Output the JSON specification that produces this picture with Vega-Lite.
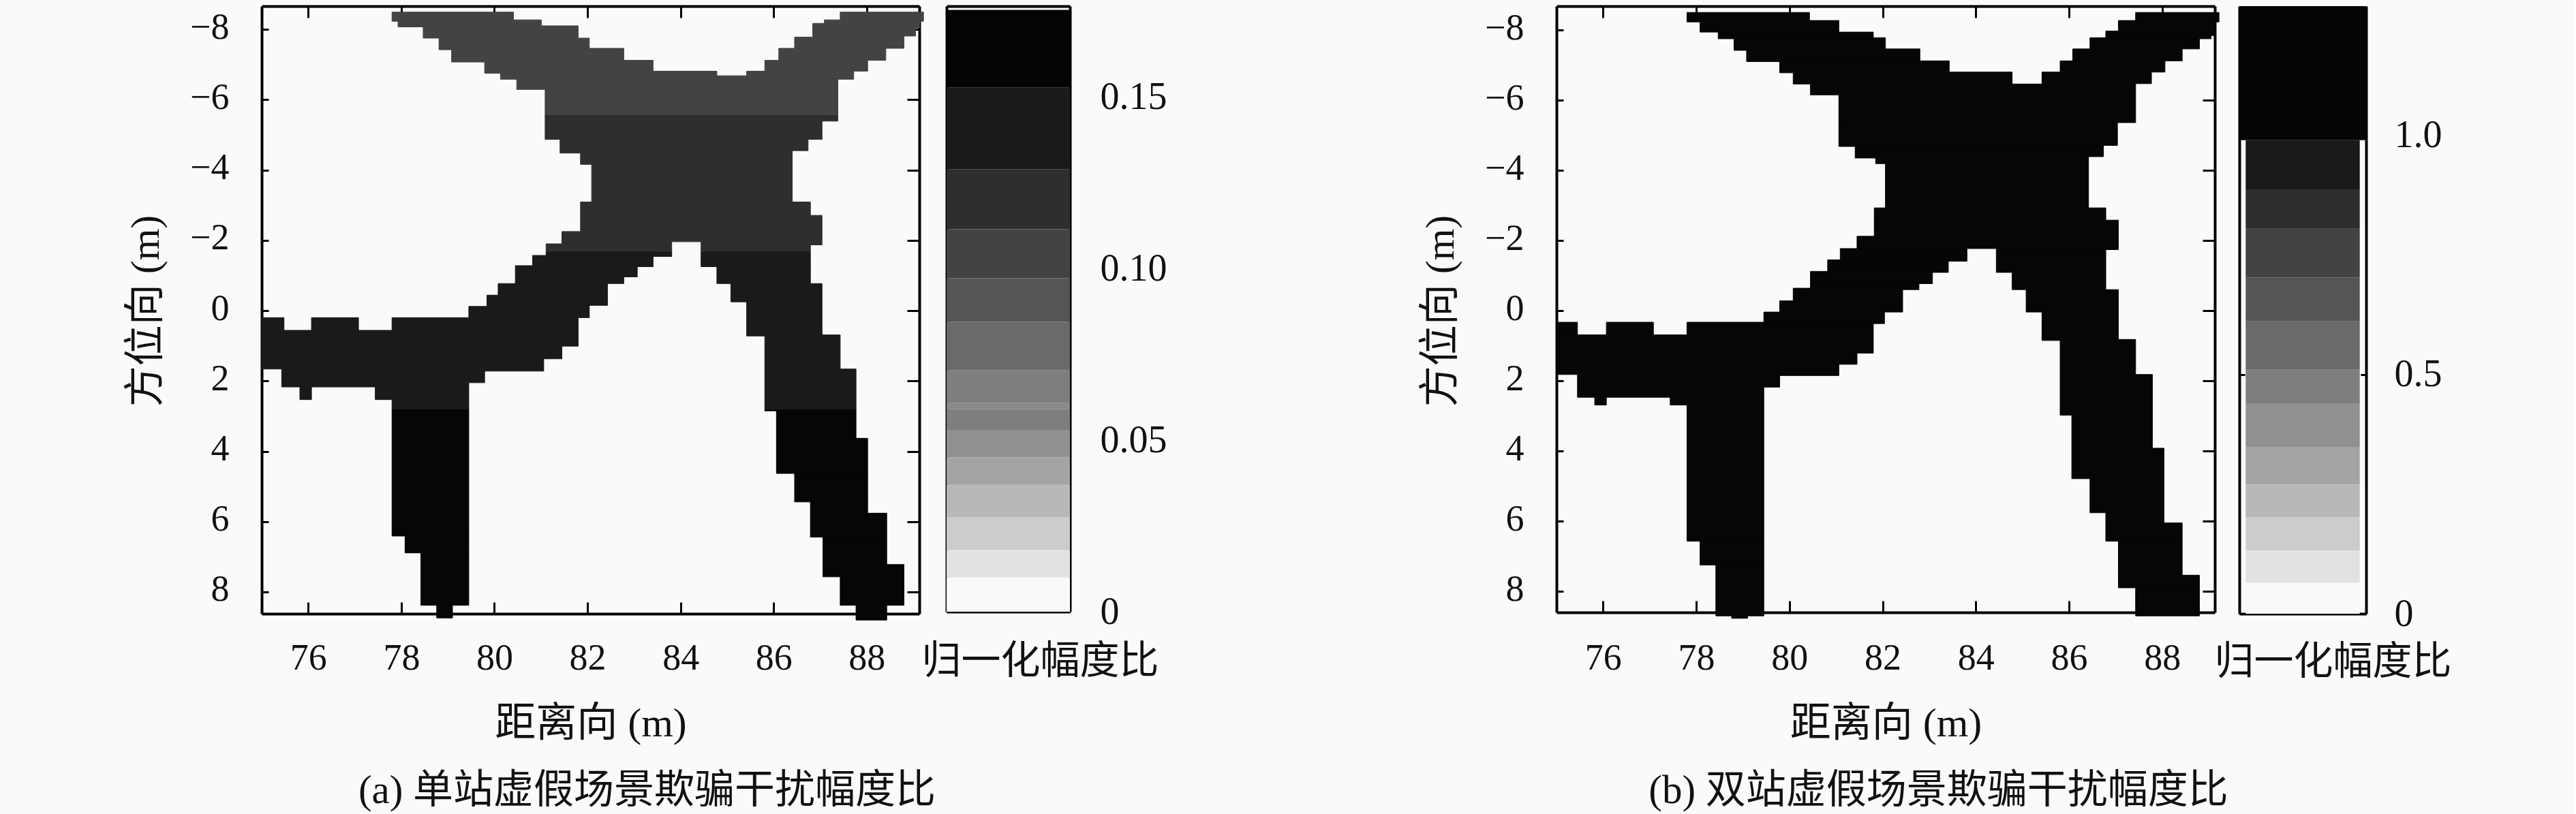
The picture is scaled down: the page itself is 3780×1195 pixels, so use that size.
{"$schema":"https://vega.github.io/schema/vega-lite/v6.json","background":"#fafafa","padding":{"left":184,"top":7,"right":180,"bottom":5},
"config":{"view":{"stroke":null},"axis":{"grid":false,"labelFont":"Liberation Serif","labelFontSize":54,"labelColor":"#111111","titleFont":"Liberation Serif, Noto Sans CJK SC","titleFontSize":60,"titleFontWeight":"normal","titleColor":"#111111","tickColor":"#000000","domainColor":"#000000","domainWidth":4,"tickWidth":3}},
"datasets":{
"a":[
{"x0":77.80,"x1":80.41,"y0":-8.49,"y1":-8.27,"v":0.105},{"x0":77.80,"x1":81.01,"y0":-8.27,"y1":-8.23,"v":0.105},{"x0":77.93,"x1":81.01,"y0":-8.23,"y1":-8.10,"v":0.105},{"x0":77.93,"x1":81.80,"y0":-8.10,"y1":-8.07,"v":0.105},{"x0":78.47,"x1":81.80,"y0":-8.07,"y1":-7.75,"v":0.105},{"x0":78.81,"x1":82.04,"y0":-7.75,"y1":-7.46,"v":0.105},{"x0":78.81,"x1":82.78,"y0":-7.46,"y1":-7.42,"v":0.105},{"x0":79.08,"x1":82.78,"y0":-7.42,"y1":-7.12,"v":0.105},{"x0":79.08,"x1":83.41,"y0":-7.12,"y1":-7.07,"v":0.105},{"x0":79.79,"x1":83.41,"y0":-7.07,"y1":-6.81,"v":0.105},{"x0":79.79,"x1":84.78,"y0":-6.81,"y1":-6.75,"v":0.105},{"x0":80.13,"x1":84.78,"y0":-6.75,"y1":-6.68,"v":0.105},{"x0":80.13,"x1":85.42,"y0":-6.68,"y1":-6.58,"v":0.105},{"x0":80.48,"x1":85.42,"y0":-6.58,"y1":-6.36,"v":0.105},{"x0":80.48,"x1":87.38,"y0":-6.36,"y1":-6.29,"v":0.105},{"x0":81.09,"x1":87.38,"y0":-6.29,"y1":-5.55,"v":0.105},
{"x0":87.43,"x1":89.22,"y0":-8.49,"y1":-8.27,"v":0.105},{"x0":87.09,"x1":89.22,"y0":-8.27,"y1":-8.23,"v":0.105},{"x0":87.09,"x1":89.14,"y0":-8.23,"y1":-8.17,"v":0.105},{"x0":86.84,"x1":89.14,"y0":-8.17,"y1":-8.04,"v":0.105},{"x0":86.84,"x1":89.05,"y0":-8.04,"y1":-7.81,"v":0.105},{"x0":86.84,"x1":88.80,"y0":-7.81,"y1":-7.78,"v":0.105},{"x0":86.45,"x1":88.80,"y0":-7.78,"y1":-7.46,"v":0.105},{"x0":86.11,"x1":88.41,"y0":-7.46,"y1":-7.12,"v":0.105},{"x0":85.81,"x1":88.02,"y0":-7.12,"y1":-6.81,"v":0.105},{"x0":85.42,"x1":87.72,"y0":-6.81,"y1":-6.58,"v":0.105},{"x0":85.42,"x1":87.38,"y0":-6.58,"y1":-6.36,"v":0.105},
{"x0":81.09,"x1":87.38,"y0":-5.55,"y1":-5.39,"v":0.12},{"x0":81.09,"x1":87.04,"y0":-5.39,"y1":-4.87,"v":0.12},{"x0":81.41,"x1":86.74,"y0":-4.87,"y1":-4.55,"v":0.12},{"x0":81.41,"x1":86.40,"y0":-4.55,"y1":-4.48,"v":0.12},{"x0":81.85,"x1":86.40,"y0":-4.48,"y1":-4.16,"v":0.12},{"x0":82.09,"x1":86.40,"y0":-4.16,"y1":-3.09,"v":0.12},{"x0":81.85,"x1":86.79,"y0":-3.09,"y1":-2.71,"v":0.12},{"x0":81.85,"x1":87.04,"y0":-2.71,"y1":-2.25,"v":0.12},{"x0":81.45,"x1":87.04,"y0":-2.25,"y1":-1.96,"v":0.12},{"x0":81.45,"x1":83.81,"y0":-1.96,"y1":-1.90,"v":0.12},{"x0":84.44,"x1":87.04,"y0":-1.96,"y1":-1.87,"v":0.12},{"x0":81.11,"x1":83.81,"y0":-1.90,"y1":-1.67,"v":0.12},{"x0":84.44,"x1":86.79,"y0":-1.87,"y1":-1.67,"v":0.12},
{"x0":81.11,"x1":83.81,"y0":-1.67,"y1":-1.57,"v":0.14},{"x0":80.82,"x1":83.81,"y0":-1.57,"y1":-1.54,"v":0.14},{"x0":80.82,"x1":83.41,"y0":-1.54,"y1":-1.28,"v":0.14},{"x0":80.45,"x1":83.41,"y0":-1.28,"y1":-1.25,"v":0.14},{"x0":80.45,"x1":83.07,"y0":-1.25,"y1":-0.96,"v":0.14},{"x0":80.45,"x1":82.78,"y0":-0.96,"y1":-0.77,"v":0.14},{"x0":80.08,"x1":82.43,"y0":-0.77,"y1":-0.44,"v":0.14},{"x0":79.84,"x1":82.43,"y0":-0.44,"y1":-0.15,"v":0.14},{"x0":79.84,"x1":82.04,"y0":-0.15,"y1":-0.12,"v":0.14},{"x0":79.45,"x1":82.04,"y0":-0.12,"y1":0.20,"v":0.14},{"x0":75,"x1":75.48,"y0":0.20,"y1":0.56,"v":0.14},{"x0":76.07,"x1":77.08,"y0":0.20,"y1":0.56,"v":0.14},{"x0":77.80,"x1":81.80,"y0":0.20,"y1":0.56,"v":0.14},{"x0":75,"x1":81.80,"y0":0.56,"y1":1.01,"v":0.14},{"x0":75,"x1":81.45,"y0":1.01,"y1":1.37,"v":0.14},{"x0":75,"x1":81.06,"y0":1.37,"y1":1.66,"v":0.14},{"x0":75.43,"x1":81.06,"y0":1.66,"y1":1.72,"v":0.14},{"x0":75.43,"x1":79.79,"y0":1.72,"y1":2.05,"v":0.14},{"x0":75.43,"x1":79.45,"y0":2.05,"y1":2.17,"v":0.14},{"x0":75.82,"x1":76.07,"y0":2.17,"y1":2.53,"v":0.14},{"x0":77.44,"x1":79.45,"y0":2.17,"y1":2.53,"v":0.14},{"x0":77.80,"x1":79.45,"y0":2.53,"y1":2.82,"v":0.14},
{"x0":77.80,"x1":79.45,"y0":2.82,"y1":6.41,"v":0.17},{"x0":78.08,"x1":79.45,"y0":6.41,"y1":6.89,"v":0.17},{"x0":78.42,"x1":79.45,"y0":6.89,"y1":8.38,"v":0.17},{"x0":78.76,"x1":79.10,"y0":8.38,"y1":8.74,"v":0.17},
{"x0":84.44,"x1":86.79,"y0":-1.67,"y1":-1.25,"v":0.14},{"x0":84.78,"x1":86.79,"y0":-1.25,"y1":-0.77,"v":0.14},{"x0":85.08,"x1":87.04,"y0":-0.77,"y1":-0.25,"v":0.14},{"x0":85.42,"x1":87.04,"y0":-0.25,"y1":0.69,"v":0.14},{"x0":85.42,"x1":87.43,"y0":0.69,"y1":0.72,"v":0.14},{"x0":85.81,"x1":87.43,"y0":0.72,"y1":1.66,"v":0.14},{"x0":85.81,"x1":87.77,"y0":1.66,"y1":2.82,"v":0.14},
{"x0":85.81,"x1":87.77,"y0":2.82,"y1":2.85,"v":0.17},{"x0":86.06,"x1":87.77,"y0":2.85,"y1":3.63,"v":0.17},{"x0":86.06,"x1":88.02,"y0":3.63,"y1":4.63,"v":0.17},{"x0":86.45,"x1":88.02,"y0":4.63,"y1":5.44,"v":0.17},{"x0":86.79,"x1":88.02,"y0":5.44,"y1":5.76,"v":0.17},{"x0":86.79,"x1":88.43,"y0":5.76,"y1":6.44,"v":0.17},{"x0":87.06,"x1":88.43,"y0":6.44,"y1":7.22,"v":0.17},{"x0":87.06,"x1":88.80,"y0":7.22,"y1":7.57,"v":0.17},{"x0":87.43,"x1":88.80,"y0":7.57,"y1":8.38,"v":0.17},{"x0":87.77,"x1":88.43,"y0":8.38,"y1":8.80,"v":0.17}
],
"b":[
{"x0":77.80,"x1":80.43,"y0":-8.50,"y1":-8.27,"v":1.1},{"x0":77.80,"x1":81.06,"y0":-8.27,"y1":-8.23,"v":1.1},{"x0":78.08,"x1":81.06,"y0":-8.23,"y1":-7.94,"v":1.1},{"x0":78.47,"x1":81.80,"y0":-7.94,"y1":-7.78,"v":1.1},{"x0":78.47,"x1":82.06,"y0":-7.78,"y1":-7.75,"v":1.1},{"x0":78.81,"x1":82.06,"y0":-7.75,"y1":-7.46,"v":1.1},{"x0":78.81,"x1":82.80,"y0":-7.46,"y1":-7.42,"v":1.1},{"x0":79.08,"x1":82.80,"y0":-7.42,"y1":-7.12,"v":1.1},{"x0":79.08,"x1":83.43,"y0":-7.12,"y1":-7.10,"v":1.1},{"x0":79.79,"x1":83.43,"y0":-7.10,"y1":-6.80,"v":1.1},{"x0":79.79,"x1":84.78,"y0":-6.80,"y1":-6.78,"v":1.1},{"x0":80.08,"x1":84.78,"y0":-6.78,"y1":-6.46,"v":1.1},{"x0":80.45,"x1":87.43,"y0":-6.46,"y1":-6.15,"v":1.1},{"x0":81.06,"x1":87.43,"y0":-6.15,"y1":-5.36,"v":1.1},
{"x0":87.43,"x1":89.22,"y0":-8.50,"y1":-8.27,"v":1.1},{"x0":87.06,"x1":89.22,"y0":-8.27,"y1":-8.23,"v":1.1},{"x0":87.06,"x1":89.14,"y0":-8.23,"y1":-7.97,"v":1.1},{"x0":86.79,"x1":89.14,"y0":-7.97,"y1":-7.84,"v":1.1},{"x0":86.79,"x1":89.05,"y0":-7.84,"y1":-7.78,"v":1.1},{"x0":86.45,"x1":89.05,"y0":-7.78,"y1":-7.75,"v":1.1},{"x0":86.45,"x1":88.80,"y0":-7.75,"y1":-7.46,"v":1.1},{"x0":86.08,"x1":88.43,"y0":-7.46,"y1":-7.12,"v":1.1},{"x0":85.81,"x1":88.06,"y0":-7.12,"y1":-6.80,"v":1.1},{"x0":85.42,"x1":87.77,"y0":-6.80,"y1":-6.47,"v":1.1},{"x0":85.42,"x1":87.43,"y0":-6.47,"y1":-6.46,"v":1.1},
{"x0":81.06,"x1":87.04,"y0":-5.36,"y1":-4.71,"v":1.1},{"x0":81.06,"x1":86.74,"y0":-4.71,"y1":-4.68,"v":1.1},{"x0":81.41,"x1":86.74,"y0":-4.68,"y1":-4.39,"v":1.1},{"x0":81.41,"x1":86.42,"y0":-4.39,"y1":-4.35,"v":1.1},{"x0":81.85,"x1":86.42,"y0":-4.35,"y1":-4.19,"v":1.1},{"x0":82.06,"x1":86.42,"y0":-4.19,"y1":-2.93,"v":1.1},{"x0":81.82,"x1":86.79,"y0":-2.93,"y1":-2.58,"v":1.1},{"x0":81.82,"x1":87.06,"y0":-2.58,"y1":-2.12,"v":1.1},{"x0":81.45,"x1":87.06,"y0":-2.12,"y1":-1.77,"v":1.1},
{"x0":81.09,"x1":83.81,"y0":-1.77,"y1":-1.45,"v":1.1},{"x0":80.82,"x1":83.81,"y0":-1.45,"y1":-1.41,"v":1.1},{"x0":80.82,"x1":83.41,"y0":-1.41,"y1":-1.12,"v":1.1},{"x0":80.45,"x1":83.41,"y0":-1.12,"y1":-1.09,"v":1.1},{"x0":80.45,"x1":83.07,"y0":-1.09,"y1":-0.77,"v":1.1},{"x0":80.45,"x1":82.78,"y0":-0.77,"y1":-0.64,"v":1.1},{"x0":80.08,"x1":82.78,"y0":-0.64,"y1":-0.60,"v":1.1},{"x0":80.08,"x1":82.43,"y0":-0.60,"y1":-0.28,"v":1.1},{"x0":79.79,"x1":82.43,"y0":-0.28,"y1":0.04,"v":1.1},{"x0":79.45,"x1":82.04,"y0":0.04,"y1":0.33,"v":1.1},{"x0":77.80,"x1":82.04,"y0":0.33,"y1":0.37,"v":1.1},{"x0":77.80,"x1":81.80,"y0":0.37,"y1":0.69,"v":1.1},{"x0":75,"x1":75.45,"y0":0.33,"y1":0.69,"v":1.1},{"x0":76.07,"x1":77.08,"y0":0.33,"y1":0.69,"v":1.1},{"x0":75,"x1":81.80,"y0":0.69,"y1":1.21,"v":1.1},{"x0":75,"x1":81.45,"y0":1.21,"y1":1.53,"v":1.1},{"x0":75,"x1":81.06,"y0":1.53,"y1":1.82,"v":1.1},{"x0":75.45,"x1":81.06,"y0":1.82,"y1":1.85,"v":1.1},{"x0":75.45,"x1":79.79,"y0":1.85,"y1":2.18,"v":1.1},{"x0":75.45,"x1":79.45,"y0":2.18,"y1":2.47,"v":1.1},{"x0":75.82,"x1":76.07,"y0":2.47,"y1":2.69,"v":1.1},{"x0":77.44,"x1":79.45,"y0":2.47,"y1":2.69,"v":1.1},{"x0":77.80,"x1":79.45,"y0":2.69,"y1":6.57,"v":1.1},{"x0":78.08,"x1":79.45,"y0":6.57,"y1":7.25,"v":1.1},{"x0":78.42,"x1":79.45,"y0":7.25,"y1":8.70,"v":1.1},{"x0":78.76,"x1":79.10,"y0":8.70,"y1":8.77,"v":1.1},
{"x0":84.44,"x1":87.06,"y0":-1.77,"y1":-1.74,"v":1.1},{"x0":84.44,"x1":86.79,"y0":-1.74,"y1":-1.09,"v":1.1},{"x0":84.78,"x1":86.79,"y0":-1.09,"y1":-0.60,"v":1.1},{"x0":85.08,"x1":87.06,"y0":-0.60,"y1":0.04,"v":1.1},{"x0":85.42,"x1":87.06,"y0":0.04,"y1":0.82,"v":1.1},{"x0":85.42,"x1":87.43,"y0":0.82,"y1":0.85,"v":1.1},{"x0":85.81,"x1":87.43,"y0":0.85,"y1":1.82,"v":1.1},{"x0":85.81,"x1":87.79,"y0":1.82,"y1":2.98,"v":1.1},{"x0":86.06,"x1":87.79,"y0":2.98,"y1":3.92,"v":1.1},{"x0":86.06,"x1":88.04,"y0":3.92,"y1":4.79,"v":1.1},{"x0":86.45,"x1":88.04,"y0":4.79,"y1":5.76,"v":1.1},{"x0":86.79,"x1":88.04,"y0":5.76,"y1":6.05,"v":1.1},{"x0":86.79,"x1":88.43,"y0":6.05,"y1":6.57,"v":1.1},{"x0":87.06,"x1":88.43,"y0":6.57,"y1":7.54,"v":1.1},{"x0":87.06,"x1":88.80,"y0":7.54,"y1":7.90,"v":1.1},{"x0":87.43,"x1":88.80,"y0":7.90,"y1":8.70,"v":1.1}
],
"ca":[
{"lo":0,"hi":0.0100,"v":0.005},{"lo":0.0100,"hi":0.018,"v":0.014},{"lo":0.018,"hi":0.0276,"v":0.023},{"lo":0.0276,"hi":0.037,"v":0.032},{"lo":0.037,"hi":0.045,"v":0.041},{"lo":0.045,"hi":0.053,"v":0.049},{"lo":0.053,"hi":0.059,"v":0.056},{"lo":0.059,"hi":0.0608,"v":0.06},{"lo":0.0608,"hi":0.0704,"v":0.065},{"lo":0.0704,"hi":0.0845,"v":0.077},{"lo":0.0845,"hi":0.0972,"v":0.09},{"lo":0.0972,"hi":0.1115,"v":0.105},{"lo":0.1115,"hi":0.129,"v":0.12},{"lo":0.129,"hi":0.1528,"v":0.14},{"lo":0.1528,"hi":0.1754,"v":0.165}
],
"cb":[
{"lo":0,"hi":0.0649,"v":0.03,"a":0.05,"b":0.95},{"lo":0.0649,"hi":0.1323,"v":0.1,"a":0.05,"b":0.95},{"lo":0.1323,"hi":0.2014,"v":0.17,"a":0.05,"b":0.95},{"lo":0.2014,"hi":0.27,"v":0.24,"a":0.05,"b":0.95},{"lo":0.27,"hi":0.349,"v":0.31,"a":0.05,"b":0.95},{"lo":0.349,"hi":0.44,"v":0.4,"a":0.05,"b":0.95},{"lo":0.44,"hi":0.51,"v":0.48,"a":0.05,"b":0.95},{"lo":0.51,"hi":0.611,"v":0.56,"a":0.05,"b":0.95},{"lo":0.611,"hi":0.703,"v":0.66,"a":0.05,"b":0.95},{"lo":0.703,"hi":0.806,"v":0.75,"a":0.05,"b":0.95},{"lo":0.806,"hi":0.887,"v":0.85,"a":0.05,"b":0.95},{"lo":0.887,"hi":0.99,"v":0.94,"a":0.05,"b":0.95},{"lo":0.99,"hi":1.27,"v":1.1,"a":0,"b":1}
]},
"spacing":372,"resolve":{"scale":{"color":"independent","stroke":"independent"}},
"hconcat":[
{"bounds":"flush","spacing":40,"resolve":{"scale":{"color":"independent","stroke":"independent"}},"hconcat":[
{"width":965,"height":892,"data":{"name":"a"},"resolve":{"axis":{"x":"independent","y":"independent"}},"layer":[
{"mark":{"type":"rect","clip":false,"strokeWidth":1},"encoding":{
"x":{"field":"x0","type":"quantitative","scale":{"domain":[75,89.13],"nice":false,"zero":false},"axis":{"orient":"bottom","values":[76,78,80,82,84,86,88],"tickSize":-17,"labelPadding":55,"labelFlush":false,"title":"距离向 (m)","titleY":161,"titleBaseline":"middle"}},
"x2":{"field":"x1"},
"y":{"field":"y0","type":"quantitative","scale":{"domain":[-8.66,8.62],"nice":false,"zero":false,"reverse":true},"axis":{"orient":"left","values":[-8,-6,-4,-2,0,2,4,6,8],"tickSize":-10,"labelPadding":58,"labelOffset":-3,"labelFlush":false,"labelExpr":"replace(datum.label,'-','−')","labelBaseline":"middle","title":"方位向 (m)","titleX":-139,"titleY":447}},
"y2":{"field":"y1"},
"color":{"field":"v","type":"quantitative","legend":null,"scale":{"type":"threshold","domain":[0.01,0.018,0.0276,0.037,0.045,0.053,0.059,0.0608,0.0704,0.0845,0.0972,0.1115,0.129,0.1528],"range":["#f9f9f9","#e2e2e2","#cccccc","#b8b8b8","#a4a4a4","#909090","#7e7e7e","#8a8a8a","#7e7e7e","#6a6a6a","#555555","#434343","#2e2e2e","#1a1a1a","#060606"]}},
"stroke":{"field":"v","type":"quantitative","legend":null,"scale":{"type":"threshold","domain":[0.01,0.018,0.0276,0.037,0.045,0.053,0.059,0.0608,0.0704,0.0845,0.0972,0.1115,0.129,0.1528],"range":["#f9f9f9","#e2e2e2","#cccccc","#b8b8b8","#a4a4a4","#909090","#7e7e7e","#8a8a8a","#7e7e7e","#6a6a6a","#555555","#434343","#2e2e2e","#1a1a1a","#060606"]}}}},
{"mark":{"type":"point","opacity":0},"encoding":{
"x":{"field":"x0","type":"quantitative","axis":{"orient":"top","values":[76,78,80,82,84,86,88],"tickSize":-17,"labels":false,"title":null}},
"y":{"field":"y0","type":"quantitative","axis":{"orient":"right","values":[-8,-6,-4,-2,0,2,4,6,8],"tickSize":-18,"labels":false,"title":null}}}},
{"mark":{"type":"point","opacity":0},"encoding":{
"x":{"field":"x0","type":"quantitative","axis":{"orient":"bottom","ticks":false,"labels":false,"domain":false,"title":"(a) 单站虚假场景欺骗干扰幅度比","titleFontSize":59,"titleX":565,"titleY":259,"titleBaseline":"middle"}},
"y":{"field":"y0","type":"quantitative","axis":null}}}
]},
{"width":181,"height":889,"data":{"name":"ca"},"resolve":{"axis":{"x":"independent","y":"independent"}},"layer":[
{"mark":{"type":"rect","strokeWidth":1},"encoding":{
"x":{"datum":0,"type":"quantitative","scale":{"domain":[0,1],"nice":false},"axis":{"orient":"bottom","ticks":false,"labels":false,"title":"归一化幅度比","titleFontSize":58,"titleX":137,"titleY":73,"titleBaseline":"middle"}},
"x2":{"datum":1},
"y":{"field":"lo","type":"quantitative","scale":{"domain":[0,0.1765],"nice":false},"axis":{"orient":"right","values":[0,0.05,0.1,0.15],"tickSize":-8,"labelPadding":52,"labelFontSize":56,"labelFlush":false,"labelBaseline":"middle","labelExpr":"datum.value==0?'0':format(datum.value,'.2f')","title":null}},
"y2":{"field":"hi"},
"color":{"field":"v","type":"quantitative","legend":null,"scale":{"type":"threshold","domain":[0.01,0.018,0.0276,0.037,0.045,0.053,0.059,0.0608,0.0704,0.0845,0.0972,0.1115,0.129,0.1528],"range":["#f9f9f9","#e2e2e2","#cccccc","#b8b8b8","#a4a4a4","#909090","#7e7e7e","#8a8a8a","#7e7e7e","#6a6a6a","#555555","#434343","#2e2e2e","#1a1a1a","#040404"]}}}},
{"mark":{"type":"point","opacity":0},"encoding":{
"x":{"field":"lo","type":"quantitative","axis":{"orient":"top","ticks":false,"labels":false,"title":null}},
"y":{"field":"lo","type":"quantitative","axis":{"orient":"left","values":[0,0.05,0.1,0.15],"tickSize":-8,"labels":false,"title":null}}}}
]}
]},
{"bounds":"flush","spacing":36,"resolve":{"scale":{"color":"independent","stroke":"independent"}},"hconcat":[
{"width":966,"height":890,"data":{"name":"b"},"resolve":{"axis":{"x":"independent","y":"independent"}},"layer":[
{"mark":{"type":"rect","clip":false,"strokeWidth":1},"encoding":{
"x":{"field":"x0","type":"quantitative","scale":{"domain":[75,89.13],"nice":false,"zero":false},"axis":{"orient":"bottom","values":[76,78,80,82,84,86,88],"tickSize":-17,"labelPadding":57,"labelFlush":false,"title":"距离向 (m)","titleY":163,"titleBaseline":"middle"}},
"x2":{"field":"x1"},
"y":{"field":"y0","type":"quantitative","scale":{"domain":[-8.68,8.6],"nice":false,"zero":false,"reverse":true},"axis":{"orient":"left","values":[-8,-6,-4,-2,0,2,4,6,8],"tickSize":-10,"labelPadding":58,"labelOffset":-3,"labelFlush":false,"labelExpr":"replace(datum.label,'-','−')","labelBaseline":"middle","title":"方位向 (m)","titleX":-139,"titleY":447}},
"y2":{"field":"y1"},
"color":{"field":"v","type":"quantitative","legend":null,"scale":{"type":"threshold","domain":[0.0649,0.1323,0.2014,0.27,0.349,0.44,0.51,0.611,0.703,0.806,0.887,0.99],"range":["#f9f9f9","#e2e2e2","#cccccc","#b8b8b8","#a4a4a4","#909090","#7e7e7e","#6a6a6a","#555555","#434343","#2e2e2e","#1a1a1a","#060606"]}},
"stroke":{"field":"v","type":"quantitative","legend":null,"scale":{"type":"threshold","domain":[0.0649,0.1323,0.2014,0.27,0.349,0.44,0.51,0.611,0.703,0.806,0.887,0.99],"range":["#f9f9f9","#e2e2e2","#cccccc","#b8b8b8","#a4a4a4","#909090","#7e7e7e","#6a6a6a","#555555","#434343","#2e2e2e","#1a1a1a","#060606"]}}}},
{"mark":{"type":"point","opacity":0},"encoding":{
"x":{"field":"x0","type":"quantitative","axis":{"orient":"top","values":[76,78,80,82,84,86,88],"tickSize":-17,"labels":false,"title":null}},
"y":{"field":"y0","type":"quantitative","axis":{"orient":"right","values":[-8,-6,-4,-2,0,2,4,6,8],"tickSize":-18,"labels":false,"title":null}}}},
{"mark":{"type":"point","opacity":0},"encoding":{
"x":{"field":"x0","type":"quantitative","axis":{"orient":"bottom","ticks":false,"labels":false,"domain":false,"title":"(b) 双站虚假场景欺骗干扰幅度比","titleFontSize":59,"titleX":560,"titleY":261,"titleBaseline":"middle"}},
"y":{"field":"y0","type":"quantitative","axis":null}}}
]},
{"width":186,"height":892,"data":{"name":"cb"},"resolve":{"axis":{"x":"independent","y":"independent"}},"layer":[
{"mark":{"type":"rect","strokeWidth":1},"encoding":{
"x":{"field":"a","type":"quantitative","scale":{"domain":[0,1],"nice":false},"axis":{"orient":"bottom","ticks":false,"labels":false,"title":"归一化幅度比","titleFontSize":58,"titleX":137,"titleY":71,"titleBaseline":"middle"}},
"x2":{"field":"b"},
"y":{"field":"lo","type":"quantitative","scale":{"domain":[0,1.27],"nice":false},"axis":{"orient":"right","values":[0,0.5,1],"tickSize":-8,"labelPadding":49,"labelFontSize":56,"labelFlush":false,"labelBaseline":"middle","labelExpr":"datum.value==0?'0':format(datum.value,'.1f')","title":null}},
"y2":{"field":"hi"},
"color":{"field":"v","type":"quantitative","legend":null,"scale":{"type":"threshold","domain":[0.0649,0.1323,0.2014,0.27,0.349,0.44,0.51,0.611,0.703,0.806,0.887,0.99],"range":["#f9f9f9","#e2e2e2","#cccccc","#b8b8b8","#a4a4a4","#909090","#7e7e7e","#6a6a6a","#555555","#434343","#2e2e2e","#1a1a1a","#040404"]}}}},
{"mark":{"type":"point","opacity":0},"encoding":{
"x":{"field":"lo","type":"quantitative","axis":null},
"y":{"field":"lo","type":"quantitative","axis":{"orient":"left","values":[0,0.5,1],"tickSize":-8,"labels":false,"title":null}}}}
]}
]}
]}
